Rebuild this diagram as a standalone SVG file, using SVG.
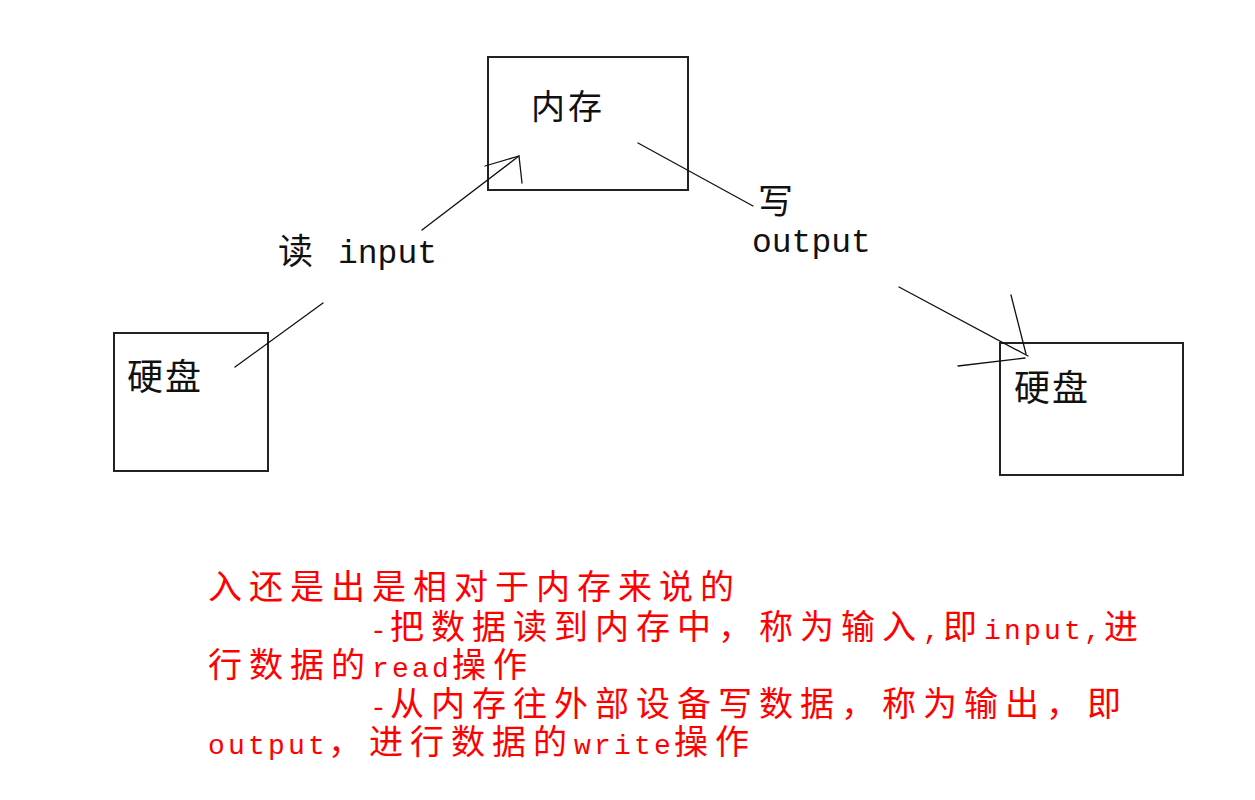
<svg xmlns="http://www.w3.org/2000/svg" width="1255" height="800" viewBox="0 0 1255 800">
<style>
.box{fill:#fff;stroke:#222;stroke-width:2}
.cjk{font-family:"Noto Sans CJK SC","Noto Sans CJK JP",sans-serif;fill:#111}
.mono{font-family:"Liberation Mono",monospace;fill:#111}
.ln{stroke:#111;stroke-width:1.3;fill:none;stroke-linecap:round}
.red .c{font-family:"Noto Sans CJK SC",sans-serif;font-size:34px;letter-spacing:7px}
.red .l{font-family:"Liberation Mono",monospace;font-size:28px;letter-spacing:3.2px}
.red text{fill:#ff0000}
</style>
<rect width="1255" height="800" fill="#fff"/>
<g id="memory">
<rect class="box" x="488" y="57" width="200" height="133"/>
<text class="cjk" x="531" y="119" font-size="34" letter-spacing="3">内存</text>
</g>
<g id="disk-left">
<rect class="box" x="114" y="333" width="154" height="138"/>
<text class="cjk" x="127" y="390" font-size="36" letter-spacing="2">硬盘</text>
</g>
<g id="disk-right">
<rect class="box" x="1000" y="343" width="183" height="132"/>
<text class="cjk" x="1014" y="401" font-size="36" letter-spacing="2">硬盘</text>
</g>
<g id="connectors">
<line class="ln" x1="235" y1="367" x2="323" y2="303"/>
<line class="ln" x1="422" y1="230" x2="519" y2="156"/>
<polyline class="ln" points="485,166 519,156 522,183"/>
<line class="ln" x1="638" y1="143" x2="753" y2="206"/>
<line class="ln" x1="899" y1="287" x2="1028" y2="356"/>
<line class="ln" x1="1011" y1="295" x2="1026" y2="354"/>
<line class="ln" x1="958" y1="366" x2="1025" y2="358"/>
</g>
<g id="label-read">
<text class="cjk" x="278" y="264" font-size="35">读</text>
<text class="mono" x="338" y="263" font-size="33">input</text>
</g>
<g id="label-write">
<text class="cjk" x="758" y="214" font-size="35">写</text>
<text class="mono" x="752" y="252" font-size="33">output</text>
</g>
<g id="note" class="red">
<text y="599"><tspan class="c" x="208">入还是出是相对于内存来说的</tspan></text>
<text y="639"><tspan class="l" x="370">-</tspan><tspan class="c" x="390">把数据读到内存中，称为输入</tspan><tspan class="l" x="923">,</tspan><tspan class="c" x="943">即</tspan><tspan class="l" x="984">input,</tspan><tspan class="c" x="1104">进</tspan></text>
<text y="677"><tspan class="c" x="208">行数据的</tspan><tspan class="l" x="372">read</tspan><tspan class="c" x="452">操作</tspan></text>
<text y="716"><tspan class="l" x="370">-</tspan><tspan class="c" x="390">从内存往外部设备写数据，称为输出，即</tspan></text>
<text y="754"><tspan class="l" x="208">output</tspan><tspan class="c" x="328">，进行数据的</tspan><tspan class="l" x="574">write</tspan><tspan class="c" x="674">操作</tspan></text>
</g>
</svg>
